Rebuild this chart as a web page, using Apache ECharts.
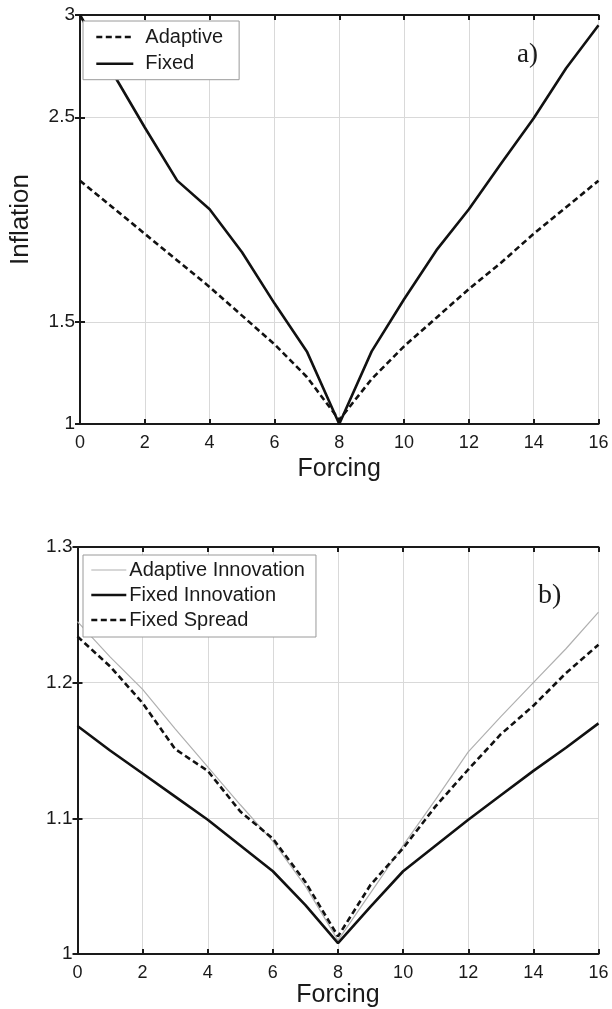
<!DOCTYPE html>
<html>
<head>
<meta charset="utf-8">
<script src="https://cdn.jsdelivr.net/npm/echarts@6/dist/echarts.min.js"></script>
<style>
  html, body { margin: 0; padding: 0; background: #fff; }
  #chart { width: 612px; height: 1009px; }
</style>
</head>
<body>
<div id="chart"></div>
<script>
// forcing values on the x axis (both panels)
const forcing = [0, 1, 2, 3, 4, 5, 6, 7, 8, 9, 10, 11, 12, 13, 14, 15, 16]
const xTicks = [0, 2, 4, 6, 8, 10, 12, 14, 16]

// panel a)
const yTicksA = [1, 1.5, 2.5, 3]
const adaptive = [2.19, 2.06, 1.93, 1.8, 1.67, 1.53, 1.39, 1.23, 1.02, 1.22, 1.38, 1.52, 1.66, 1.79, 1.93, 2.06, 2.19]
const fixed = [3.0, 2.72, 2.45, 2.19, 2.05, 1.84, 1.59, 1.355, 1.0, 1.355, 1.61, 1.85, 2.05, 2.275, 2.495, 2.74, 2.95]

// panel b)
const yTicksB = [1, 1.1, 1.2, 1.3]
const adaptiveInnovation = [1.245, 1.219, 1.195, 1.166, 1.138, 1.11, 1.083, 1.05, 1.01, 1.045, 1.08, 1.114, 1.149, 1.175, 1.2, 1.225, 1.252]
const fixedInnovation = [1.168, 1.15, 1.133, 1.116, 1.099, 1.08, 1.061, 1.036, 1.008, 1.035, 1.061, 1.08, 1.099, 1.117, 1.135, 1.152, 1.17]
const fixedSpread = [1.234, 1.212, 1.185, 1.151, 1.135, 1.105, 1.085, 1.053, 1.013, 1.051, 1.078, 1.109, 1.136, 1.162, 1.183, 1.207, 1.228]

const FONT = "'Liberation Sans', Arial, sans-serif"
const INK = '#1a1a1a'
const GRID = '#d9d9d9'

const toPoints = (vals) => forcing.map((x, i) => [x, vals[i]])

// main x axis (bottom) + mirror axis (top) for a box with inside ticks
const xAxisPair = (gridIndex, showName) => [
  {
    type: 'value',
    gridIndex,
    min: xTicks[0],
    max: xTicks[xTicks.length - 1],
    interval: 2,
    name: showName ? 'Forcing' : '',
    nameLocation: 'middle',
    nameGap: gridIndex === 0 ? 33 : 29,
    nameTextStyle: { fontFamily: FONT, fontSize: 25, color: INK, verticalAlign: 'top' },
    axisLine: { show: true, lineStyle: { color: INK, width: 2 } },
    axisTick: { show: true, inside: true, length: 5, lineStyle: { color: INK, width: 2 } },
    axisLabel: { fontFamily: FONT, fontSize: 18, color: INK, margin: 10 },
    splitLine: { show: true, lineStyle: { color: GRID, width: 1 } },
  },
  {
    type: 'value',
    gridIndex,
    position: 'top',
    min: xTicks[0],
    max: xTicks[xTicks.length - 1],
    interval: 2,
    axisLine: { show: true, lineStyle: { color: INK, width: 2 } },
    axisTick: { show: true, inside: true, length: 5, lineStyle: { color: INK, width: 2 } },
    axisLabel: { show: false },
    splitLine: { show: false },
  },
]

const yAxisPair = (gridIndex, ticks, interval, name) => [
  {
    type: 'value',
    gridIndex,
    min: ticks[0],
    max: ticks[ticks.length - 1],
    interval,
    name,
    nameLocation: 'middle',
    nameGap: 46,
    nameTextStyle: { fontFamily: FONT, fontSize: 26, color: INK },
    axisLine: { show: true, lineStyle: { color: INK, width: 2 } },
    axisTick: { show: true, inside: true, length: 5, customValues: ticks, lineStyle: { color: INK, width: 2 } },
    axisLabel: { fontFamily: FONT, fontSize: 19, color: INK, margin: 5, customValues: ticks },
    splitLine: { show: true, lineStyle: { color: GRID, width: 1 } },
  },
  {
    type: 'value',
    gridIndex,
    position: 'right',
    min: ticks[0],
    max: ticks[ticks.length - 1],
    interval,
    axisLine: { show: true, lineStyle: { color: INK, width: 2 } },
    axisTick: { show: true, inside: true, length: 5, customValues: ticks, lineStyle: { color: INK, width: 2 } },
    axisLabel: { show: false },
    splitLine: { show: false },
  },
]

const lineSeries = (name, vals, axisIndex, style) => ({
  name,
  type: 'line',
  xAxisIndex: axisIndex,
  yAxisIndex: axisIndex,
  data: toPoints(vals),
  symbol: 'none',
  smooth: false,
  lineStyle: style,
  itemStyle: { color: style.color },
  z: style.z || 3,
  animation: false,
})

const solid = { color: '#111', width: 2.6, type: 'solid' }
const dashed = { color: '#111', width: 2.6, type: [6, 3.5] }
const thinGray = { color: '#b0b0b0', width: 1.2, type: 'solid', z: 2 }

// legend entry: line sample drawn in the series' own style
const legendItem = (name, style) => ({
  name,
  lineStyle: { color: style.color, width: style.width, type: style.type },
})

// legend box shared look; item symbol hidden so only the line sample shows
const legendBase = {
  orient: 'vertical',
  backgroundColor: '#fff',
  borderColor: '#9a9a9a',
  borderWidth: 1,
  selectedMode: false,
  itemHeight: 14,
  itemStyle: { opacity: 0 },
}

const chart = echarts.init(document.getElementById('chart'), null, { renderer: 'canvas' })

const option = {
  backgroundColor: '#fff',
  animation: false,
  grid: [
    { left: 77.5, top: 15, width: 521, height: 409 },
    { left: 77.5, top: 547, width: 521, height: 409 },
  ],
  xAxis: [...xAxisPair(0, true), ...xAxisPair(1, true)],
  yAxis: [...yAxisPair(0, yTicksA, 0.5, 'Inflation'), ...yAxisPair(1, yTicksB, 0.1, '')],
  title: [
    { text: 'a)', left: 512, top: 36, textStyle: { fontFamily: "'Liberation Serif', serif", fontSize: 27, fontWeight: 'normal', color: INK } },
    { text: 'b)', left: 533, top: 577, textStyle: { fontFamily: "'Liberation Serif', serif", fontSize: 28, fontWeight: 'normal', color: INK } },
  ],
  legend: [
    {
      ...legendBase,
      data: [legendItem('Adaptive', dashed), legendItem('Fixed', solid)],
      left: 83,
      top: 21,
      padding: [6, 16, 6, 12],
      itemWidth: 37,
      itemGap: 6.7,
      textStyle: { fontFamily: FONT, fontSize: 20, color: INK, lineHeight: 20, padding: [0, 0, 0, 7] },
    },
    {
      ...legendBase,
      data: [
        legendItem('Adaptive Innovation', thinGray),
        legendItem('Fixed Innovation', solid),
        legendItem('Fixed Spread', dashed),
      ],
      left: 83,
      top: 555,
      padding: [5, 11, 7, 7],
      itemWidth: 35,
      itemGap: 5,
      textStyle: { fontFamily: FONT, fontSize: 20, color: INK, lineHeight: 20, padding: [0, 0, 0, -2] },
    },
  ],
  series: [
    lineSeries('Adaptive', adaptive, 0, dashed),
    lineSeries('Fixed', fixed, 0, solid),
    lineSeries('Adaptive Innovation', adaptiveInnovation, 2, thinGray),
    lineSeries('Fixed Innovation', fixedInnovation, 2, solid),
    lineSeries('Fixed Spread', fixedSpread, 2, dashed),
  ],
}

chart.setOption(option)
</script>
</body>
</html>
